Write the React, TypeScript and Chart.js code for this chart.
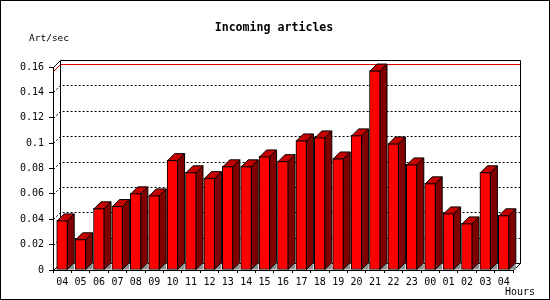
import React, { useEffect, useRef } from "react";
import { Chart, registerables } from "chart.js";

Chart.register(...registerables);

const hours = ["04", "05", "06", "07", "08", "09", "10", "11", "12", "13", "14", "15", "16", "17", "18", "19", "20", "21", "22", "23", "00", "01", "02", "03", "04"];
const artPerSec = [0.0391, 0.0242, 0.0486, 0.0504, 0.0604, 0.0588, 0.0866, 0.0770, 0.0724, 0.0817, 0.0817, 0.0895, 0.0858, 0.1021, 0.1045, 0.0879, 0.1061, 0.1572, 0.0997, 0.0832, 0.0683, 0.0446, 0.0367, 0.0770, 0.0431];
const yTickLabels = ["0", "0.02", "0.04", "0.06", "0.08", "0.1", "0.12", "0.14", "0.16"];
const yMax = 0.16;
const yStep = 0.02;
const titleText = "Incoming articles";
const yUnitText = "Art/sec";
const xUnitText = "Hours";

const D = 7; // 3D depth offset
const MONO = "'DejaVu Sans Mono', 'Liberation Mono', monospace";

const threeD = {
  id: "threeD",
  beforeDatasetsDraw(chart: any) {
    const ctx = chart.ctx;
    const { left, right, top, bottom } = chart.chartArea;
    const ys = chart.scales.y;
    const L = Math.round(left) + 0.5;
    const R = Math.round(right) + 0.5;
    const B = Math.round(bottom) + 0.5;
    const T = Math.round(top);
    ctx.save();
    ctx.lineWidth = 1;
    ctx.strokeStyle = "#000";
    ctx.setLineDash([2, 2]);
    for (let i = 1; i < yTickLabels.length - 1; i++) {
      const v = i * yStep;
      const py = Math.round(ys.getPixelForValue(v));
      ctx.beginPath();
      ctx.moveTo(L, py + 0.5);
      ctx.lineTo(L + D, py - D + 0.5);
      ctx.lineTo(R + D, py - D + 0.5);
      ctx.stroke();
    }
    ctx.setLineDash([]);
    const mx = Math.max(...artPerSec);
    const pm = Math.round(ys.getPixelForValue(mx));
    ctx.strokeStyle = "#e00000";
    ctx.beginPath();
    ctx.moveTo(L, pm + 0.5);
    ctx.lineTo(L + D, pm - D + 0.5);
    ctx.lineTo(R + D, pm - D + 0.5);
    ctx.stroke();
    ctx.strokeStyle = "#000";
    ctx.beginPath();
    ctx.moveTo(L + D, B - D);
    ctx.lineTo(L + D, T - D + 0.5);
    ctx.lineTo(R + D, T - D + 0.5);
    ctx.lineTo(R + D, B - D);
    ctx.lineTo(L + D, B - D);
    ctx.stroke();
    ctx.beginPath();
    ctx.moveTo(L, T + 0.5);
    ctx.lineTo(L + D, T - D + 0.5);
    ctx.moveTo(L, B);
    ctx.lineTo(L + D, B - D);
    ctx.moveTo(R, B);
    ctx.lineTo(R + D, B - D);
    ctx.stroke();
    const meta = chart.getDatasetMeta(0);
    ctx.fillStyle = "#909090";
    meta.data.forEach((el: any) => {
      const xr = el.x + el.width / 2 - 0.5;
      const base = el.base;
      ctx.beginPath();
      ctx.moveTo(xr, base);
      ctx.lineTo(xr + D, base - D);
      ctx.lineTo(xr + D, base);
      ctx.closePath();
      ctx.fill();
    });
    ctx.restore();
  },
  afterDatasetsDraw(chart: any) {
    const ctx = chart.ctx;
    const meta = chart.getDatasetMeta(0);
    ctx.save();
    ctx.lineWidth = 1;
    ctx.strokeStyle = "#000";
    meta.data.forEach((el: any) => {
      const xl = el.x - el.width / 2 + 0.5;
      const xr = el.x + el.width / 2 - 0.5;
      const t = el.y + 0.5;
      const base = el.base;
      ctx.fillStyle = "#800000";
      ctx.beginPath();
      ctx.moveTo(xr, t);
      ctx.lineTo(xr + D, t - D);
      ctx.lineTo(xr + D, base - D);
      ctx.lineTo(xr, base);
      ctx.closePath();
      ctx.fill();
      ctx.stroke();
      ctx.fillStyle = "#c40000";
      ctx.beginPath();
      ctx.moveTo(xl, t);
      ctx.lineTo(xl + D, t - D);
      ctx.lineTo(xr + D, t - D);
      ctx.lineTo(xr, t);
      ctx.closePath();
      ctx.fill();
      ctx.stroke();
    });
    ctx.restore();
  },
  afterDraw(chart: any) {
    const ctx = chart.ctx;
    ctx.save();
    ctx.fillStyle = "#000";
    ctx.textBaseline = "middle";
    ctx.font = `bold 11.6px ${MONO}`;
    ctx.textAlign = "center";
    ctx.fillText(titleText, 274, 28);
    ctx.font = `9.5px ${MONO}`;
    ctx.textAlign = "left";
    ctx.fillText(yUnitText, 29, 38.5);
    ctx.font = `10px ${MONO}`;
    ctx.textAlign = "right";
    ctx.fillText(xUnitText, 535, 292);
    ctx.strokeStyle = "#000";
    ctx.lineWidth = 1;
    ctx.strokeRect(0.5, 0.5, 549, 299);
    ctx.restore();
  },
};

export default function App() {
  const ref = useRef<HTMLCanvasElement | null>(null);
  useEffect(() => {
    if (!ref.current) return;
    const chart = new Chart(ref.current, {
      type: "bar",
      data: {
        labels: hours,
        datasets: [
          {
            data: artPerSec,
            backgroundColor: "#ff0000",
            borderColor: "#000000",
            borderWidth: 1,
            borderSkipped: false,
            barThickness: 11,
          },
        ],
      },
      options: {
        responsive: false,
        animation: false,
        devicePixelRatio: 1,
        layout: { padding: { left: 0, right: 37, top: 67, bottom: 0 } },
        plugins: { legend: { display: false }, tooltip: { enabled: false }, title: { display: false } },
        scales: {
          x: {
            grid: { offset: true, drawOnChartArea: false, drawTicks: true, tickLength: 3, color: "#000" },
            border: { display: true, color: "#000" },
            ticks: { color: "#000", font: { family: MONO, size: 10 }, padding: 3, maxRotation: 0, autoSkip: false },
            afterFit: (s: any) => { s.height = 30; },
          },
          y: {
            min: 0,
            max: yMax,
            grid: { drawOnChartArea: false, drawTicks: true, tickLength: 4, color: "#000" },
            border: { display: true, color: "#000" },
            ticks: {
              stepSize: yStep,
              color: "#000",
              font: { family: MONO, size: 10 },
              padding: 5,
              callback: (_v: any, i: number) => yTickLabels[i],
            },
            afterFit: (s: any) => { s.width = 53; },
          },
        },
      },
      plugins: [threeD],
    });
    return () => chart.destroy();
  }, []);
  return (
    <div style={{ position: "absolute", left: 0, top: 0, width: 550, height: 300 }}>
      <canvas ref={ref} width={550} height={300} />
    </div>
  );
}
